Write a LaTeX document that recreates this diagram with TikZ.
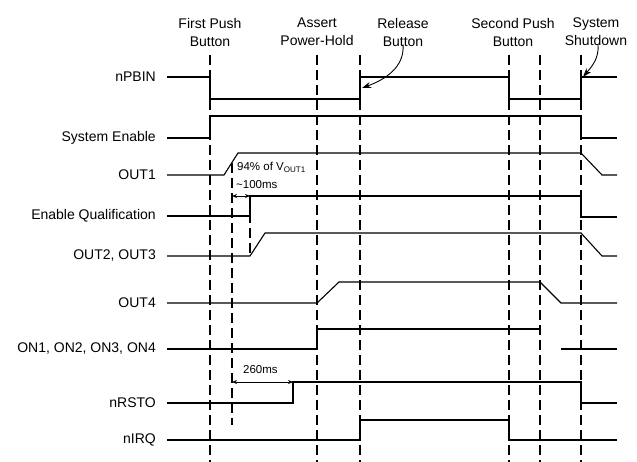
\documentclass[tikz,border=0pt]{standalone}
\usepackage{fontspec}
\setmainfont{Liberation Sans}
\usetikzlibrary{arrows.meta}

\begin{document}
\begin{tikzpicture}[x=1pt,y=-1pt,>={Stealth[length=5pt,width=4pt]},
    wave/.style={line width=1.1pt},
    mark line/.style={line width=1.8pt,dash pattern=on 10pt off 5pt},
    sig node/.style={anchor=east,inner sep=0pt,font=\fontsize{14}{16}\selectfont},
    head node/.style={align=center,inner sep=0pt,font=\fontsize{14}{18}\selectfont},
    note node/.style={anchor=west,inner sep=0pt,font=\fontsize{11.5}{13}\selectfont}]
                \useasboundingbox (0,0) rectangle (637,462);

                % event headings
                \node[head node] (first) at (210,32) {First Push\\Button};
                \node[head node] (hold) at (317,32) {Assert\\Power-Hold};
                \node[head node] (release) at (403,32) {Release\\Button};
                \node[head node] (second) at (513,32) {Second Push\\Button};
                \node[head node] (shutdown) at (596,32) {System\\Shutdown};

                % signal names
                \node[sig node] (npbin) at (156,77) {nPBIN};
                \node[sig node] (sysen) at (156,138) {System Enable};
                \node[sig node] (out1) at (156,175) {OUT1};
                \node[sig node] (enq) at (156,216) {Enable Qualification};
                \node[sig node] (out23) at (156,256) {OUT2, OUT3};
                \node[sig node] (out4) at (156,303) {OUT4};
                \node[sig node] (on) at (156,349) {ON1, ON2, ON3, ON4};
                \node[sig node] (nrsto) at (156,403) {nRSTO};
                \node[sig node] (nirq) at (156,440) {nIRQ};

                % event markers
                \foreach \x in {210,317,360,509,540,581}
                    \draw[mark line] (\x,55) -- (\x,462);
                \draw[mark line] (232,163) -- (232,425);
                \draw[mark line] (250,198) -- (250,257);

                % waveforms
                \draw[wave] (167,77) -- (210,77) -- (210,99) -- (360,99) -- (360,77) -- (509,77) -- (509,99) -- (581,99) -- (581,77) -- (617,77);
                \draw[wave] (167,138) -- (210,138) -- (210,116) -- (581,116) -- (581,138) -- (617,138);
                \draw[wave] (167,175) -- (224,175) -- (238,153) -- (581,153) -- (602,175) -- (617,175);
                \draw[wave] (167,216) -- (250,216) -- (250,196) -- (581,196) -- (581,217) -- (617,217);
                \draw[wave] (167,256) -- (250,256) -- (265,233) -- (581,233) -- (602,256) -- (617,256);
                \draw[wave] (167,303) -- (317,303) -- (339,282) -- (540,282) -- (561,303) -- (617,303);
                \draw[wave] (167,349) -- (317,349) -- (317,329) -- (540,329);
                \draw[wave] (561,349) -- (617,349);
                \draw[wave] (167,403) -- (293,403) -- (293,382) -- (581,382) -- (581,403) -- (617,403);
                \draw[wave] (167,440) -- (360,440) -- (360,420) -- (509,420) -- (509,440) -- (617,440);

                % timing notes
                \coordinate (q1) at (232,196);
                \coordinate (q2) at (250,196);
                \coordinate (r1) at (232,382);
                \coordinate (r2) at (293,382);
                \draw[<->,line width=0.8pt] (q1) -- (q2);
                \draw[<->,line width=0.8pt] (r1) -- (r2);
                \node[note node] (vth) at (237,167) {94\% of V\textsubscript{OUT1}};
                \node[note node] (t100) at (236,185) {\textasciitilde100ms};
                \node[note node] (t260) at (243,370) {260ms};

                % pointers
                \coordinate (reltip) at (362,88);
                \coordinate (offtip) at (583,77);
                \draw[-{Stealth[length=9pt,width=6pt]},line width=0.9pt] (release.south) ++(0,-2) to[out=-85,in=20] (reltip);
                \draw[-{Stealth[length=9pt,width=6pt]},line width=0.9pt] (shutdown.south) ++(2,-2) to[out=-85,in=50] (offtip);
            \end{tikzpicture}
\end{document}
